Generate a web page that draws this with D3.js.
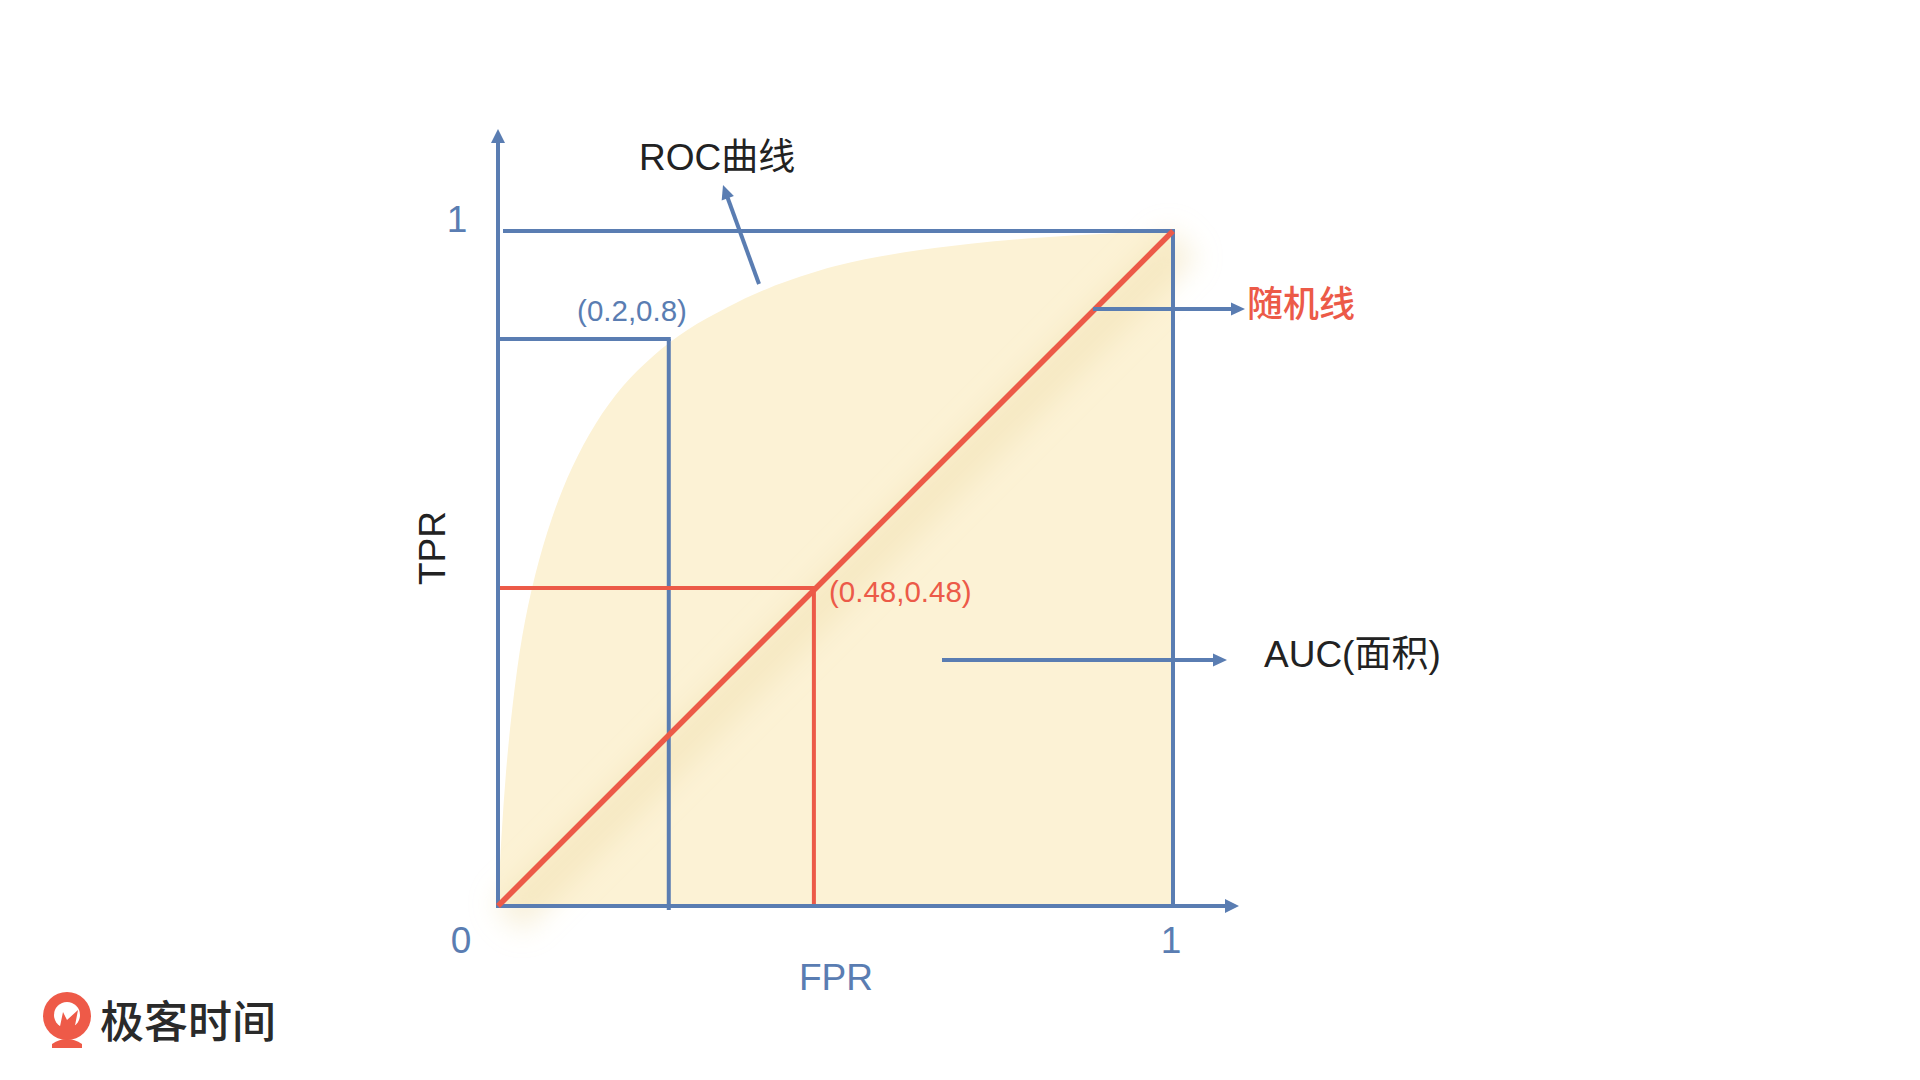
<!DOCTYPE html>
<html>
<head>
<meta charset="utf-8">
<script src="https://cdn.jsdelivr.net/npm/d3@7"></script>
<style>
  html, body { margin: 0; padding: 0; background: #ffffff; }
  svg { display: block; }
  text { font-family: "Liberation Sans", "Noto Sans CJK SC", sans-serif; }
</style>
</head>
<body>
<svg id="chart" width="1920" height="1080"></svg>
<script>
// ---- Data ----
const rocFPR = [0, 0.005, 0.012, 0.022, 0.036, 0.055, 0.080, 0.110, 0.145, 0.185, 0.230, 0.280, 0.340, 0.400, 0.500, 0.600, 0.700, 0.800, 0.900, 1.0];
const rocTPR = [0, 0.100, 0.200, 0.300, 0.400, 0.490, 0.575, 0.650, 0.715, 0.770, 0.815, 0.853, 0.887, 0.915, 0.948, 0.968, 0.981, 0.990, 0.996, 1.0];
const randomFPR = [0, 1];
const randomTPR = [0, 1];
const markFPR = [0.253, 0.468];
const markTPR = [0.840, 0.471];
const markLabels = ["(0.2,0.8)", "(0.48,0.48)"];
const tickValues = [0, 1];
const tickLabels = ["0", "1"];
const axisTitles = ["FPR", "TPR"];
const annotations = ["ROC曲线", "随机线", "AUC(面积)"];

// ---- Layout ----
const BLUE = "#5a7db2", RED = "#ec5a48", FILL = "#fcf2d5", DARK = "#222222";
const svg = d3.select("#chart");
const x = d3.scaleLinear().domain([0, 1]).range([498, 1173]);
const y = d3.scaleLinear().domain([0, 1]).range([906, 231]);

const defs = svg.append("defs");
const blur = defs.append("filter").attr("id", "shadow").attr("x", "-50%").attr("y", "-50%").attr("width", "200%").attr("height", "200%");
blur.append("feGaussianBlur").attr("stdDeviation", 14);

function arrowHead(g, x1, y1, x2, y2, len, w, color) {
  const a = Math.atan2(y2 - y1, x2 - x1);
  const bx = x2 - len * Math.cos(a), by = y2 - len * Math.sin(a);
  const px = -Math.sin(a) * w / 2, py = Math.cos(a) * w / 2;
  g.append("path")
    .attr("d", `M${x2},${y2}L${bx + px},${by + py}L${bx - px},${by - py}Z`)
    .attr("fill", color);
}
function arrow(g, x1, y1, x2, y2, color, width, len, w) {
  const a = Math.atan2(y2 - y1, x2 - x1);
  const ex = x2 - (len - 1) * Math.cos(a), ey = y2 - (len - 1) * Math.sin(a);
  g.append("line").attr("x1", x1).attr("y1", y1).attr("x2", ex).attr("y2", ey)
    .attr("stroke", color).attr("stroke-width", width);
  arrowHead(g, x1, y1, x2, y2, len, w, color);
}

// ---- ROC area ----
const rocData = rocFPR.map((f, i) => [f, rocTPR[i]]);
const area = d3.area()
  .x(d => x(d[0])).y0(y(0)).y1(d => y(d[1]))
  .curve(d3.curveCatmullRom.alpha(0.5));
svg.append("path").datum(rocData).attr("d", area).attr("fill", FILL);

// soft shadow along the random line
svg.append("line")
  .attr("x1", x(randomFPR[0]) + 10).attr("y1", y(randomTPR[0]) + 12)
  .attr("x2", x(randomFPR[1]) + 10).attr("y2", y(randomTPR[1]) + 12)
  .attr("stroke", "#f0ddae").attr("stroke-opacity", 0.45).attr("stroke-width", 40)
  .attr("filter", "url(#shadow)");

const g = svg.append("g");

// frame lines at TPR=1 and FPR=1
g.append("line").attr("x1", x(0) + 5).attr("x2", x(1)).attr("y1", y(1)).attr("y2", y(1))
  .attr("stroke", BLUE).attr("stroke-width", 4);
g.append("line").attr("x1", x(1)).attr("x2", x(1)).attr("y1", y(1) - 2).attr("y2", y(0))
  .attr("stroke", BLUE).attr("stroke-width", 4);

// marker guide lines
const markColors = [BLUE, RED];
markFPR.forEach((f, i) => {
  g.append("line").attr("x1", x(0)).attr("x2", x(f) + 2).attr("y1", y(markTPR[i])).attr("y2", y(markTPR[i]))
    .attr("stroke", markColors[i]).attr("stroke-width", 4);
  g.append("line").attr("x1", x(f)).attr("x2", x(f)).attr("y1", y(markTPR[i])).attr("y2", y(0) + (i === 0 ? 4 : 0))
    .attr("stroke", markColors[i]).attr("stroke-width", 4);
});

// axes
arrow(g, x(0), y(0) + 2, x(0), 129, BLUE, 4, 14, 14);
arrow(g, x(0) - 2, y(0), 1239, y(0), BLUE, 4, 14, 14);

// random line
g.append("line")
  .attr("x1", x(randomFPR[0])).attr("y1", y(randomTPR[0]))
  .attr("x2", x(randomFPR[1])).attr("y2", y(randomTPR[1]))
  .attr("stroke", RED).attr("stroke-width", 5.5);

// tick labels
g.append("text").attr("x", 461).attr("y", 953).attr("text-anchor", "middle")
  .attr("font-size", 37).attr("fill", BLUE).text(tickLabels[0]);
g.append("text").attr("x", x(tickValues[1]) - 2).attr("y", 953).attr("text-anchor", "middle")
  .attr("font-size", 37).attr("fill", BLUE).text(tickLabels[1]);
g.append("text").attr("x", 457).attr("y", y(tickValues[1]) + 1).attr("text-anchor", "middle")
  .attr("font-size", 37).attr("fill", BLUE).text(tickLabels[1]);

// axis titles
g.append("text").attr("x", 836).attr("y", 990).attr("text-anchor", "middle")
  .attr("font-size", 37).attr("fill", BLUE).text(axisTitles[0]);
g.append("text").attr("transform", "translate(445,548) rotate(-90)").attr("text-anchor", "middle")
  .attr("font-size", 37).attr("fill", DARK).text(axisTitles[1]);

// marker labels
g.append("text").attr("x", 632).attr("y", 321).attr("text-anchor", "middle")
  .attr("font-size", 29.5).attr("fill", BLUE).text(markLabels[0]);
g.append("text").attr("x", 829).attr("y", 602).attr("text-anchor", "start")
  .attr("font-size", 29.5).attr("fill", RED).text(markLabels[1]);

// ROC annotation
arrow(g, 759, 284, 723, 185, BLUE, 4, 14, 13);
g.append("text").attr("x", 639).attr("y", 170).attr("font-size", 37).attr("fill", DARK).text(annotations[0]);

// random line annotation
arrow(g, 1093, 309, 1245, 309, BLUE, 4, 14, 13);
g.append("text").attr("x", 1247).attr("y", 317).attr("font-size", 36).attr("font-weight", 500)
  .attr("fill", RED).text(annotations[1]);

// AUC annotation
arrow(g, 942, 660, 1227, 660, BLUE, 4, 14, 13);
g.append("text").attr("x", 1264).attr("y", 667).attr("font-size", 37).attr("fill", DARK).text(annotations[2]);

// ---- logo ----
const logo = svg.append("g");
logo.append("circle").attr("cx", 67).attr("cy", 1016).attr("r", 24).attr("fill", "#ee5a48");
logo.append("path").attr("d", "M52,1044 Q67,1034 82,1044 L82,1048 L52,1048Z").attr("fill", "#ee5a48");
logo.append("circle").attr("cx", 67).attr("cy", 1015).attr("r", 13).attr("fill", "#ffffff");
logo.append("path").attr("d", "M58,1036 L63,1012 L67,1020 L78,1010 L73,1036 Z").attr("fill", "#ee5a48");
logo.append("text").attr("x", 100).attr("y", 1038)
  .attr("font-family", "Noto Sans CJK SC").attr("font-size", 44).attr("font-weight", 500)
  .attr("fill", "#2a2a2a").text("极客时间");
</script>
</body>
</html>
